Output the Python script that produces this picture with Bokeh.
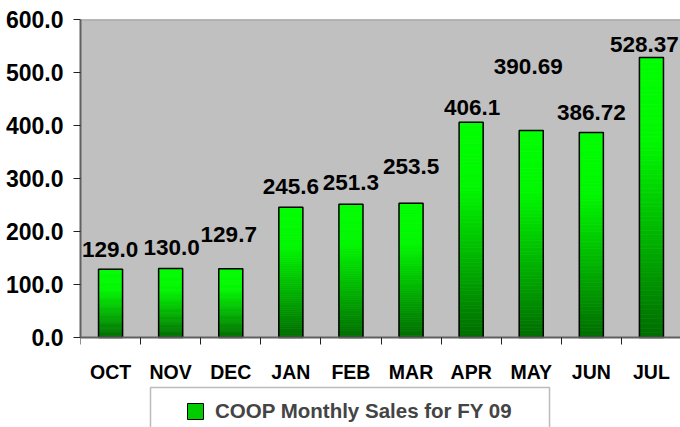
import numpy as np
from bokeh.plotting import figure
from bokeh.models import (Range1d, FixedTicker, LinearAxis, ColumnDataSource, Legend,
                          LegendItem, PrintfTickFormatter, BoxAnnotation, Span)
from bokeh.core.properties import value
from bokeh.embed import file_html
from bokeh.resources import INLINE

# ---- data ----
months = ["OCT", "NOV", "DEC", "JAN", "FEB", "MAR", "APR", "MAY", "JUN", "JUL"]
sales = [129.0, 130.0, 129.7, 245.6, 251.3, 253.5, 406.1, 390.69, 386.72, 528.37]
y_ticks = [0, 100, 200, 300, 400, 500, 600]
series_name = "COOP Monthly Sales for FY 09"
labels = [str(v) for v in sales]

# ---- label placement style (pixels) ----
label_dx = [-0.5, 1, -2, 0, 0, 0, 1, -3, 0, -7]
label_dy = [-20, -21, -34, -21, -22, -37, -15, -64, -20, -13]

FONT = "Liberation Sans"
BAR_W = 0.4

# ---- layout (pixels) ----
W, H = 680, 427
LEFT, TOP = 80, 19
PLOT_H = 318            # height of the value area (0 .. top tick)
FRAME_H = H - TOP       # frame runs down to the bottom so the legend can sit inside it
CAT_PX = 60.1           # width of one category
px_per_unit = PLOT_H / y_ticks[-1]
y_lo = y_ticks[-1] - FRAME_H / px_per_unit
x_hi = (W - LEFT) / CAT_PX

p = figure(width=W, height=H, output_backend="svg", toolbar_location=None,
           x_range=Range1d(0, x_hi), y_range=Range1d(y_lo, y_ticks[-1]),
           min_border_left=LEFT, min_border_right=0, min_border_top=TOP, min_border_bottom=0,
           x_axis_type=None, background_fill_color="white", border_fill_color="white",
           outline_line_color=None)

centers = [i + 0.5 for i in range(len(months))]
bounds = list(range(len(months) + 1))

# grey plot area
p.add_layout(BoxAnnotation(bottom=y_ticks[0], top=y_ticks[-1], fill_color="#C0C0C0",
                           fill_alpha=1, line_color=None, level="underlay"))
p.add_layout(Span(location=y_ticks[-1], dimension="width", line_color="#808080",
                  line_width=1.5))

# gradient bars (bright green top -> dark green bottom), drawn as thin slices of each bar
N = 60
xs, bots, tops, cols = [], [], [], []
for c, v in zip(centers, sales):
    for k in range(N):
        tt = 1 - (k + 0.5) / N  # fraction from top
        g = np.interp(tt, [0, 0.3, 1], [255, 248, 108])
        xs.append(c)
        bots.append(v * k / N)
        tops.append(v * (k + 1) / N)
        cols.append("#00%02x00" % int(round(g)))
src = ColumnDataSource(dict(x=xs, bottom=bots, top=tops, c=cols))
p.vbar(x="x", width=BAR_W, top="top", bottom="bottom", fill_color="c", line_color="c",
       line_width=0.6, source=src)
p.vbar(x=centers, width=BAR_W, top=sales, bottom=0, fill_alpha=0,
       line_color="black", line_width=1.5)

# value labels
p.text(x=centers, y=sales, text=labels, x_offset=label_dx, y_offset=label_dy,
       text_align="center", text_baseline="alphabetic", text_font=value(FONT),
       text_font_style="bold", text_font_size="22.5px", text_color="black")

# y axis
ya = p.yaxis[0]
ya.ticker = FixedTicker(ticks=y_ticks)
ya.bounds = (y_ticks[0], y_ticks[-1])
ya.formatter = PrintfTickFormatter(format="%.1f")
ya.major_label_text_font = FONT
ya.major_label_text_font_style = "bold"
ya.major_label_text_font_size = "23px"
ya.major_label_text_color = "black"
ya.major_tick_out = 7
ya.major_tick_in = 0
ya.minor_tick_line_color = None
ya.axis_line_color = "#606060"
ya.axis_line_width = 2
ya.major_tick_line_color = "#222222"
ya.major_label_standoff = 10

p.ygrid.ticker = FixedTicker(ticks=y_ticks[1:-1])
p.ygrid.grid_line_color = "#151515"
p.ygrid.grid_line_width = 1

# x axis pinned at y = 0: labels at category centres, tick marks at boundaries
xa = LinearAxis(fixed_location=y_ticks[0],
                ticker=FixedTicker(ticks=centers, minor_ticks=bounds),
                major_label_overrides={c: m for c, m in zip(centers, months)},
                major_tick_line_color=None, major_tick_out=7, major_tick_in=0,
                minor_tick_out=7, minor_tick_in=0, minor_tick_line_color="#222222",
                axis_line_color="#606060", axis_line_width=2,
                major_label_standoff=16, major_label_text_font=FONT,
                major_label_text_font_style="bold", major_label_text_font_size="19.5px",
                major_label_text_color="black")
p.add_layout(xa, "below")

# legend frame (its lower edge runs off the page, as in the original)
box_top_px, box_left_px, box_right_px = 50, 70, 469   # offsets from the plot's lower-left corner
p.add_layout(BoxAnnotation(left=box_left_px / CAT_PX, right=box_right_px / CAT_PX,
                           top=-box_top_px / px_per_unit, bottom=y_lo - 50,
                           fill_alpha=0, line_color="#222222", line_width=1.5,
                           level="overlay"))

r_leg = p.scatter(x=[centers[0]], y=[0], size=0, marker="square",
                  fill_color="#00CC00", line_color="black", line_width=1)
legend = Legend(items=[LegendItem(label=series_name, renderers=[r_leg])],
                location=(95, -4), border_line_alpha=0, background_fill_alpha=0,
                padding=0, margin=0, spacing=0,
                glyph_width=40, glyph_height=40, label_standoff=0, label_height=40,
                label_text_font=FONT, label_text_font_style="bold",
                label_text_font_size="20.5px")
p.add_layout(legend)

open("out.html", "w").write(file_html(p, INLINE))
